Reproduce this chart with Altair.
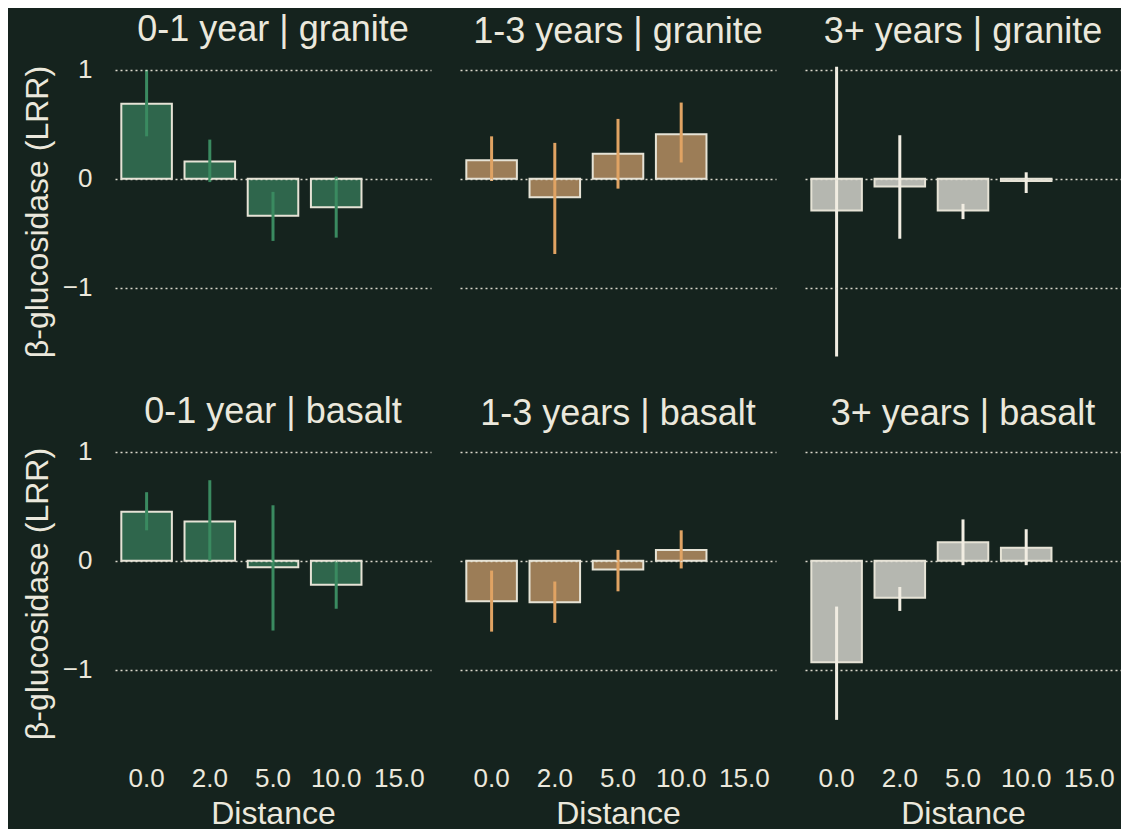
import altair as alt
import pandas as pd

# ---- data ----
distance_labels = ["0.0", "2.0", "5.0", "10.0", "15.0"]
bar_distances = ["0.0", "2.0", "5.0", "10.0"]
ages = ["0-1 year", "1-3 years", "3+ years"]
rocks = ["granite", "basalt"]

granite_mean = {"0-1 year": [0.69, 0.16, -0.34, -0.26],
                "1-3 years": [0.17, -0.17, 0.23, 0.41],
                "3+ years": [-0.29, -0.07, -0.29, -0.02]}
granite_lo = {"0-1 year": [0.39, -0.03, -0.57, -0.54],
              "1-3 years": [-0.02, -0.69, -0.09, 0.15],
              "3+ years": [-1.63, -0.55, -0.37, -0.13]}
granite_hi = {"0-1 year": [1.00, 0.36, -0.12, 0.02],
              "1-3 years": [0.39, 0.33, 0.55, 0.70],
              "3+ years": [1.03, 0.40, -0.23, 0.06]}

basalt_mean = {"0-1 year": [0.45, 0.36, -0.06, -0.22],
               "1-3 years": [-0.37, -0.38, -0.08, 0.10],
               "3+ years": [-0.93, -0.34, 0.17, 0.12]}
basalt_lo = {"0-1 year": [0.28, 0.00, -0.64, -0.44],
             "1-3 years": [-0.65, -0.57, -0.28, -0.07],
             "3+ years": [-1.46, -0.46, -0.04, -0.04]}
basalt_hi = {"0-1 year": [0.63, 0.74, 0.51, 0.00],
             "1-3 years": [-0.09, -0.19, 0.10, 0.28],
             "3+ years": [-0.42, -0.24, 0.38, 0.29]}

fill_colors = {"0-1 year": "#2f664c", "1-3 years": "#9c7d57", "3+ years": "#b5b7b0"}
err_colors = {"0-1 year": "#3a8a60", "1-3 years": "#e0a363", "3+ years": "#f1ede2"}

BG = "#15231e"
TEXT = "#ebe8dc"
EDGE = "#e6e3d6"
FONT = "Liberation Sans"

means = {"granite": granite_mean, "basalt": basalt_mean}
los = {"granite": granite_lo, "basalt": basalt_lo}
his = {"granite": granite_hi, "basalt": basalt_hi}

rows = []
for rock in rocks:
    for age in ages:
        for i, d in enumerate(bar_distances):
            rows.append({"rock": rock, "age": age, "distance": d,
                         "mean": means[rock][age][i],
                         "lo": los[rock][age][i],
                         "hi": his[rock][age][i]})
df = pd.DataFrame(rows)

W, H = 316, 305
YDOM = [-1.7, 1.1]


def panel(rock, age, left, bottom):
    d = df[(df["rock"] == rock) & (df["age"] == age)]
    xscale = alt.Scale(domain=distance_labels, paddingInner=0.2, paddingOuter=0.1)
    yscale = alt.Scale(domain=YDOM, nice=False, zero=False)
    if bottom:
        xaxis = alt.Axis(title="Distance", labelAngle=0, ticks=False, domain=False,
                         labelPadding=19, titlePadding=7, grid=False)
    else:
        xaxis = None
    yaxis = alt.Axis(values=[-1, 0, 1], format="d", grid=True, ticks=False, domain=False,
                     labels=left, title="β-glucosidase (LRR)" if left else None,
                     labelPadding=23, titlePadding=8, zindex=1)
    base = alt.Chart(d)
    bars = base.mark_bar(fill=fill_colors[age], stroke=EDGE, strokeWidth=2).encode(
        x=alt.X("distance:N", scale=xscale, axis=xaxis, sort=distance_labels),
        y=alt.Y("mean:Q", scale=yscale, axis=yaxis),
    )
    err = base.mark_rule(color=err_colors[age], strokeWidth=3).encode(
        x=alt.X("distance:N", scale=xscale, sort=distance_labels),
        y=alt.Y("lo:Q", scale=yscale),
        y2="hi:Q",
    )
    return alt.layer(bars, err).properties(
        width=W, height=H,
        title=alt.TitleParams(f"{age} | {rock}", fontSize=36, font=FONT, color=TEXT,
                              fontWeight="normal", offset=8, anchor="middle"),
    )


row1 = alt.hconcat(*[panel("granite", a, i == 0, False) for i, a in enumerate(ages)], spacing=29)
row2 = alt.hconcat(*[panel("basalt", a, i == 0, True) for i, a in enumerate(ages)], spacing=29)

chart = alt.vconcat(row1, row2, spacing=29).properties(
    background=BG,
    padding={"left": 13, "top": 3, "right": 0, "bottom": 0},
).configure_view(stroke=None).configure_axis(
    labelFont=FONT, titleFont=FONT, labelColor=TEXT, titleColor=TEXT,
    labelFontSize=26, titleFontSize=32, titleFontWeight="normal",
    gridColor=EDGE, gridDash=[2, 3], gridWidth=1.6, gridOpacity=0.95,
)

chart.save("out.html", embed_options={"renderer": "svg", "actions": False})
